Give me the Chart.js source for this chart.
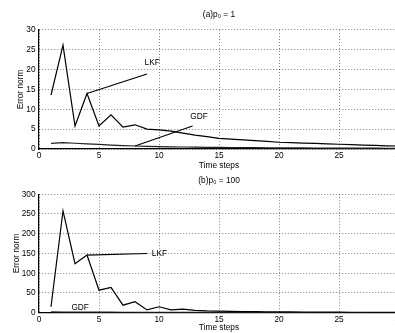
<!DOCTYPE html>
<html>
<head>
<meta charset="utf-8">
<script src="https://cdn.jsdelivr.net/npm/chart.js@4/dist/chart.umd.min.js"></script>
<style>
  html, body { margin: 0; padding: 0; background: #fff; overflow: hidden; }
  #wrap { position: relative; width: 395px; height: 333px; overflow: hidden; }
  .box { position: absolute; left: 0; width: 420px; }
</style>
</head>
<body>
<div id="wrap">
  <div class="box" style="top:0;height:172px"><canvas id="chartA"></canvas></div>
  <div class="box" style="top:166px;height:167px"><canvas id="chartB"></canvas></div>
</div>
<script>
const steps = Array.from({length: 30}, (_, i) => i + 1);

// (a) p0 = 1
const lkfA = [13.6, 26.2, 5.8, 14.0, 5.8, 8.6, 5.5, 6.1, 5.0, 4.8, 4.5, 4.0, 3.5, 3.1, 2.7,
              2.5, 2.3, 2.1, 1.9, 1.7, 1.6, 1.5, 1.4, 1.3, 1.2, 1.1, 1.0, 0.9, 0.8, 0.75];
const gdfA = [1.4, 1.6, 1.45, 1.3, 1.15, 1.0, 0.85, 0.75, 0.65, 0.6, 0.55, 0.5, 0.45, 0.42, 0.4,
              0.38, 0.36, 0.34, 0.32, 0.3, 0.28, 0.26, 0.25, 0.24, 0.23, 0.22, 0.21, 0.2, 0.19, 0.18];

// (b) p0 = 100
const lkfB = [15, 258, 124, 146, 57, 64, 19, 28, 7, 15, 7, 9, 6, 4.5, 4,
              3.5, 3, 2.7, 2.4, 2.2, 2, 1.8, 1.6, 1.5, 1.3, 1.2, 1.1, 1, 0.9, 0.8];
const gdfB = [2, 1.8, 1.6, 1.5, 1.4, 1.3, 1.2, 1.1, 1, 0.9, 0.85, 0.8, 0.75, 0.7, 0.65,
              0.6, 0.55, 0.5, 0.45, 0.4, 0.38, 0.36, 0.34, 0.32, 0.3, 0.28, 0.26, 0.24, 0.22, 0.2];

const xTicks = [0, 5, 10, 15, 20, 25, 30];

// leader lines and their labels
const leadersA = [
  {line: [{x: 4, y: 14}, {x: 9, y: 18.9}], text: 'LKF', at: {x: 8.8, y: 21.7}},
  {line: [{x: 8, y: 0.75}, {x: 12.8, y: 5.8}], text: 'GDF', at: {x: 12.6, y: 8.1}}
];
const leadersB = [
  {line: [{x: 4, y: 146}, {x: 9, y: 150}], text: 'LKF', at: {x: 9.4, y: 150}},
  {line: [{x: 8, y: 0.5}, {x: 12, y: 0.5}], text: 'GDF', at: {x: 2.7, y: 13}}
];

const FONT = "'Liberation Sans', Arial, sans-serif";
const FS = 8.3;

const leaderLabels = {
  id: 'leaderLabels',
  afterDatasetsDraw(chart, args, opts) {
    const {ctx, scales: {x, y}} = chart;
    ctx.save();
    ctx.font = FS + 'px ' + FONT;
    ctx.fillStyle = '#000';
    ctx.textAlign = 'left';
    ctx.textBaseline = 'middle';
    opts.items.forEach(l => {
      ctx.fillText(l.text, x.getPixelForValue(l.at.x), y.getPixelForValue(l.at.y));
    });
    ctx.restore();
  }
};

function makeChart(id, title, lkf, gdf, leaders, yMax, yStep, lay) {
  const datasets = [
    {data: steps.map((s, i) => ({x: s, y: lkf[i]})), borderColor: '#000', borderWidth: 1.2},
    {data: steps.map((s, i) => ({x: s, y: gdf[i]})), borderColor: '#222', borderWidth: 1.2}
  ];
  leaders.forEach(l => datasets.push({data: l.line, borderColor: '#000', borderWidth: 1.2}));

  return new Chart(document.getElementById(id), {
    type: 'line',
    data: {datasets: datasets},
    plugins: [leaderLabels],
    options: {
      responsive: true,
      maintainAspectRatio: false,
      animation: false,
      layout: {padding: {left: 0, right: 21, top: 0, bottom: 0}},
      elements: {point: {radius: 0}, line: {tension: 0}},
      plugins: {
        legend: {display: false},
        tooltip: {enabled: false},
        title: {
          display: true, text: title, fullSize: false, color: '#000',
          font: {family: FONT, size: FS, weight: 'normal'},
          padding: {top: lay.titleTop, bottom: lay.titleBottom}
        },
        leaderLabels: {items: leaders}
      },
      scales: {
        x: {
          type: 'linear', min: 0, max: 30,
          afterBuildTicks: s => { s.ticks = xTicks.map(v => ({value: v})); },
          afterFit: s => { s.height = lay.xHeight; s.paddingLeft = 0; s.paddingRight = 0; },
          ticks: {color: '#000', font: {family: FONT, size: FS}, padding: 1.7, maxRotation: 0},
          grid: {color: 'rgba(0,0,0,0.5)', drawTicks: false, lineWidth: 1},
          border: {display: true, color: '#000', width: 1.2, dash: [1, 2]},
          title: {display: true, text: 'Time steps', color: '#000',
                  font: {family: FONT, size: FS}, padding: {top: 0, bottom: lay.xTitlePad}}
        },
        y: {
          min: 0, max: yMax,
          ticks: {stepSize: yStep, color: '#000', font: {family: FONT, size: FS}, padding: 3.5},
          afterFit: s => { s.width = 39; },
          grid: {color: 'rgba(0,0,0,0.5)', drawTicks: false, lineWidth: 1},
          border: {display: true, color: '#000', width: 1.2, dash: [1, 2]},
          title: {display: true, text: 'Error norm', color: '#000',
                  font: {family: FONT, size: FS}, padding: {top: lay.yTitlePad, bottom: 0}}
        }
      }
    }
  });
}

makeChart('chartA', '(a)p\u2080 = 1', lkfA, gdfA, leadersA, 30, 5,
  {titleTop: 10, titleBottom: 10, xHeight: 23, xTitlePad: 1, yTitlePad: 16.2});
makeChart('chartB', '(b)p\u2080 = 100', lkfB, gdfB, leadersB, 300, 50,
  {titleTop: 9.7, titleBottom: 8.6, xHeight: 20.3, xTitlePad: 0, yTitlePad: 11.7});
</script>
</body>
</html>
